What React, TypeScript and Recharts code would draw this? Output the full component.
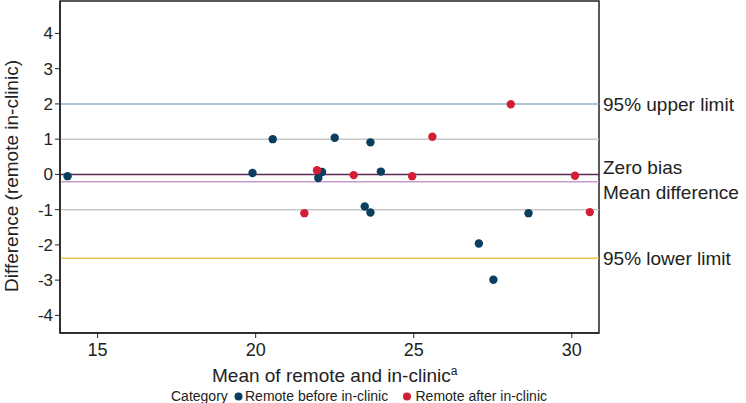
import React from 'react';
import { ScatterChart, Scatter, XAxis, YAxis, ReferenceLine, ReferenceArea } from 'recharts';

const beforeX = [14.05, 19.9, 20.54, 21.98, 22.1, 22.5, 23.45, 23.63, 23.63, 23.96, 27.06, 27.52, 28.63];
const beforeY = [-0.05, 0.04, 1.0, -0.1, 0.07, 1.04, -0.91, 0.91, -1.08, 0.08, -1.96, -2.99, -1.1];
const afterX = [21.54, 21.94, 23.1, 24.95, 25.59, 28.07, 30.1, 30.57];
const afterY = [-1.1, 0.12, -0.02, -0.05, 1.07, 1.99, -0.04, -1.07];

const xTicks = [15, 20, 25, 30];
const yTicks = [-4, -3, -2, -1, 0, 1, 2, 3, 4];
const xDomain = [13.81, 30.86];
const yDomain = [-4.5, 4.92];

const upperLimit = 2.0;
const zeroBias = 0;
const meanDiff = -0.21;
const lowerLimit = -2.38;
const gridLines = [1, -1];

const categories = ['Remote before in-clinic', 'Remote after in-clinic'];
const colors = ['#0b3d5e', '#d21f35'];

const FONT = '"Liberation Sans", Arial, Helvetica, sans-serif';

const beforeData = beforeX.map((x, i) => ({ x, y: beforeY[i] }));
const afterData = afterX.map((x, i) => ({ x, y: afterY[i] }));

const makeLabel = (text: string, dy: number) => (props: any) => {
  const vb = props.viewBox || {};
  const x = (vb.x || 0) + (vb.width || 0) + 4;
  const y = (vb.y || 0) + dy;
  return (
    <text x={x} y={y} dy="0.36em" fill="#222" fontSize={19} fontFamily={FONT} textAnchor="start">
      {text}
    </text>
  );
};

const dot = (color: string) => (props: any) => (
  <circle cx={props.cx} cy={props.cy} r={4.2} fill={color} />
);

export default function App() {
  return (
    <div style={{ position: 'absolute', left: 0, top: 0, width: 746, height: 403, background: '#fff' }}>
      <ScatterChart width={746} height={403} margin={{ top: 1, right: 147, bottom: 0, left: 0 }}>
        <XAxis
          type="number"
          dataKey="x"
          domain={xDomain}
          ticks={xTicks}
          allowDataOverflow
          height={70}
          tickSize={5}
          tickMargin={5}
          tick={{ fill: '#222', fontSize: 18, fontFamily: FONT }}
          axisLine={{ stroke: '#222', strokeWidth: 1.5 }}
          tickLine={{ stroke: '#222' }}
        />
        <YAxis
          type="number"
          dataKey="y"
          domain={yDomain}
          ticks={yTicks}
          allowDataOverflow
          width={60}
          tickSize={5}
          tickMargin={2}
          tick={{ fill: '#222', fontSize: 17, fontFamily: FONT }}
          axisLine={{ stroke: '#222', strokeWidth: 1.5 }}
          tickLine={{ stroke: '#222' }}
        />
        {gridLines.map((g) => (
          <ReferenceLine key={g} y={g} stroke="#c8c8c8" strokeWidth={1.5} />
        ))}
        <ReferenceLine y={upperLimit} stroke="#8fb3cc" strokeWidth={1.5} label={makeLabel('95% upper limit', 0)} />
        <ReferenceLine y={lowerLimit} stroke="#f0c24a" strokeWidth={1.5} label={makeLabel('95% lower limit', 0)} />
        <ReferenceLine y={meanDiff} stroke="#c59ccc" strokeWidth={1.5} label={makeLabel('Mean difference', 10.5)} />
        <ReferenceLine y={zeroBias} stroke="#5a2a55" strokeWidth={1.5} label={makeLabel('Zero bias', -7.5)} />
        <ReferenceArea
          x1={xDomain[0]}
          x2={xDomain[1]}
          y1={yDomain[0]}
          y2={yDomain[1]}
          fill="none"
          fillOpacity={0}
          stroke="#222"
          strokeWidth={1.5}
          ifOverflow="visible"
        />
        <Scatter name={categories[0]} data={beforeData} fill={colors[0]} shape={dot(colors[0])} isAnimationActive={false} />
        <Scatter name={categories[1]} data={afterData} fill={colors[1]} shape={dot(colors[1])} isAnimationActive={false} />
      </ScatterChart>
      <svg width={746} height={403} style={{ position: 'absolute', left: 0, top: 0, pointerEvents: 'none' }}>
        <text
          x={18}
          y={176}
          transform="rotate(-90 18 176)"
          textAnchor="middle"
          fill="#222"
          fontSize={19}
          fontFamily={FONT}
        >
          Difference (remote in-clinic)
        </text>
        <text x={212} y={381.5} fill="#222" fontSize={19} fontFamily={FONT}>
          Mean of remote and in-clinic
          <tspan fontSize={12} dy={-7}>a</tspan>
        </text>
        <text x={171} y={401} fill="#222" fontSize={14} fontFamily={FONT}>
          Category
        </text>
        <circle cx={238.5} cy={396.5} r={4} fill={colors[0]} />
        <text x={245} y={401} fill="#222" fontSize={14} fontFamily={FONT}>
          {categories[0]}
        </text>
        <circle cx={407} cy={396.5} r={4} fill={colors[1]} />
        <text x={415.5} y={401} fill="#222" fontSize={14} fontFamily={FONT}>
          {categories[1]}
        </text>
      </svg>
    </div>
  );
}
